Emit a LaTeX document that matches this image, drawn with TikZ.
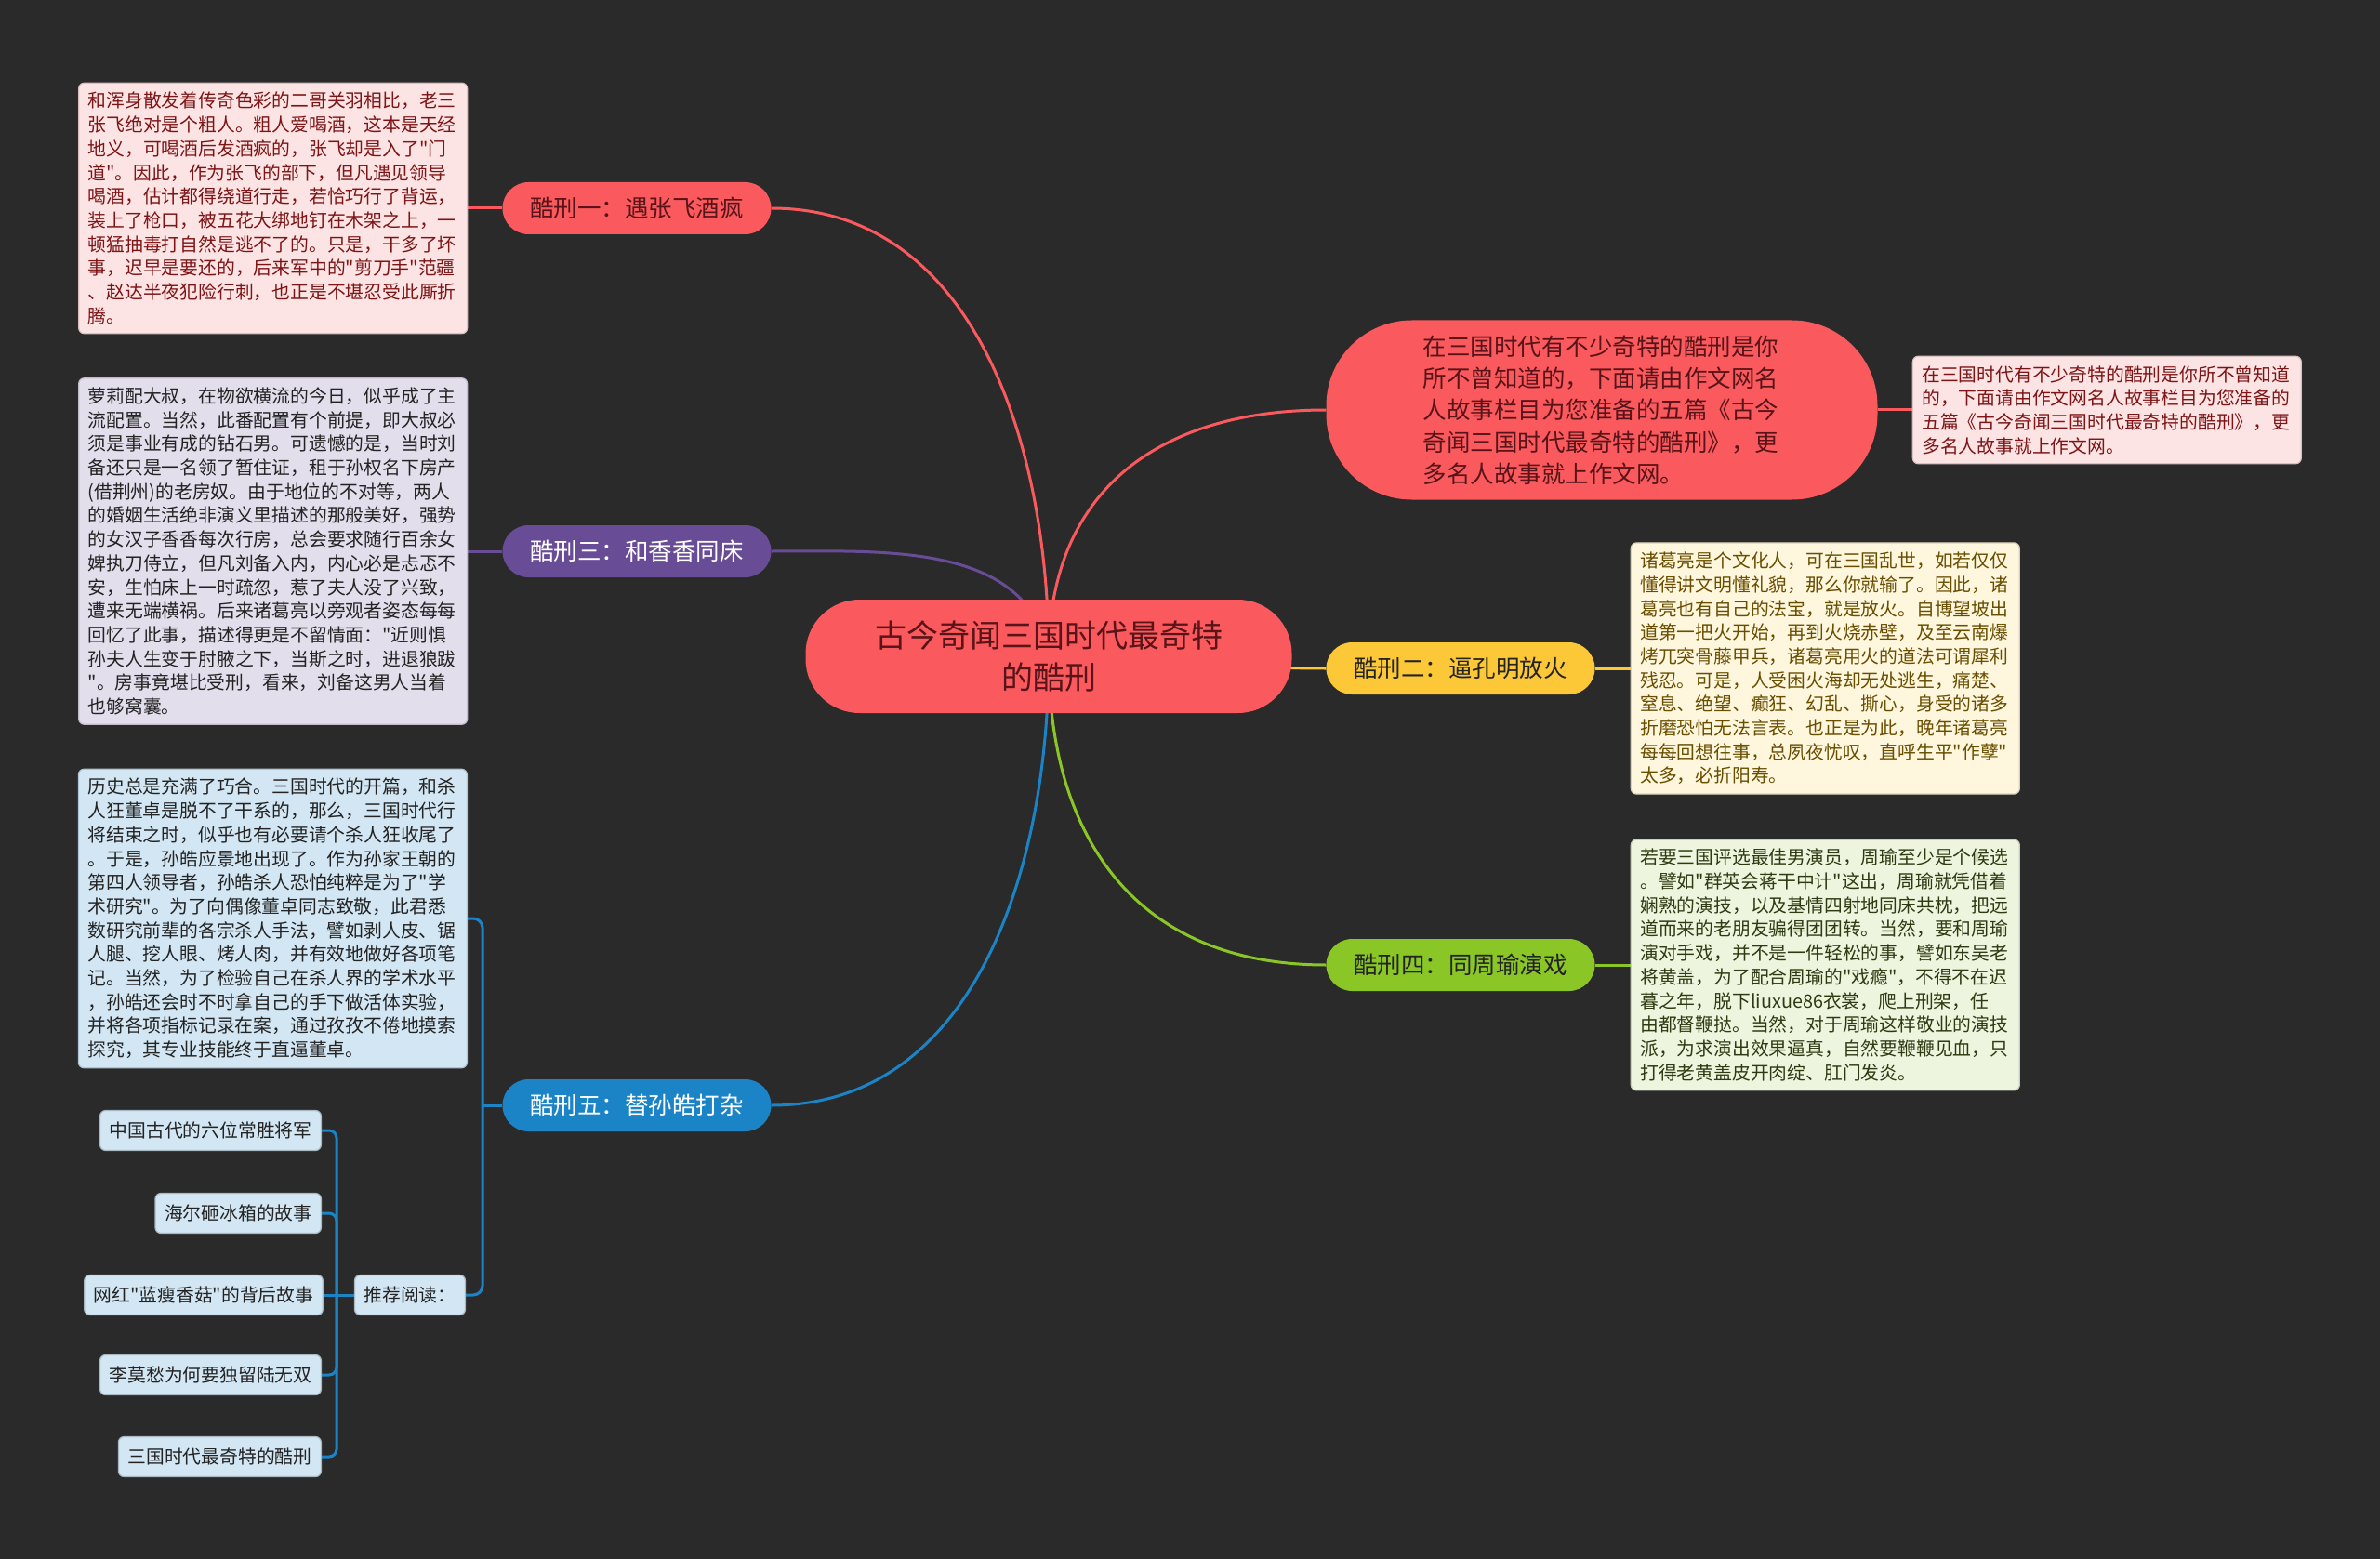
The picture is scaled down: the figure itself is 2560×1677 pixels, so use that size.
\documentclass[tikz,border=0pt]{standalone}
\usepackage{fontspec}
\setmainfont{Noto Sans CJK SC}[Ligatures=TeXOff]
\usetikzlibrary{positioning,backgrounds}
\definecolor{bgcol}{RGB}{42,42,42}
\definecolor{redcol}{RGB}{250,90,94}
\definecolor{purplecol}{RGB}{104,76,150}
\definecolor{bluecol}{RGB}{27,132,199}
\definecolor{yellowcol}{RGB}{252,200,56}
\definecolor{greencol}{RGB}{138,199,38}
\definecolor{pinkfill}{RGB}{253,228,228}
\definecolor{lilacfill}{RGB}{226,222,236}
\definecolor{icefill}{RGB}{210,230,243}
\definecolor{creamfill}{RGB}{254,247,222}
\definecolor{mintfill}{RGB}{238,245,222}
\definecolor{maroontext}{RGB}{88,20,24}
\definecolor{pinktext}{RGB}{125,20,22}
\definecolor{inktext}{RGB}{35,35,35}
\definecolor{browntext}{RGB}{105,78,0}
\definecolor{olivetext}{RGB}{45,58,18}

\begin{document}
\begin{tikzpicture}[x=1pt,y=-1pt,
    main node/.style={fill=redcol,text=maroontext,rounded corners=58pt,minimum width=523pt,minimum height=122pt,align=center,font=\fontsize{34}{45}\selectfont},
    branch node/.style={rounded corners=28pt,minimum width=289pt,minimum height=56pt,font=\fontsize{25.5}{34}\selectfont},
    leaf node/.style={rounded corners=6pt,text width=398pt,align=left,inner xsep=10pt,inner ysep=10pt,line width=1.2pt,font=\fontsize{19.8}{25.7}\selectfont},
    item node/.style={fill=icefill,draw=icefill!80!black,line width=1.2pt,rounded corners=6pt,minimum height=43pt,inner xsep=10pt,text=inktext,font=\fontsize{19.8}{25.7}\selectfont},
    link/.style={line width=3pt}]

    \node[main node] (0) at (1128,706) {古今奇闻三国时代最奇特\\的酷刑};
    \node[branch node,fill=redcol,text=maroontext] (1) at (685,224) {酷刑一：遇张飞酒疯};
    \node[branch node,fill=yellowcol,text=inktext] (2) at (1571,719) {酷刑二：逼孔明放火};
    \node[branch node,fill=purplecol,text=white] (3) at (685,593) {酷刑三：和香香同床};
    \node[branch node,fill=greencol,text=inktext] (4) at (1571,1038) {酷刑四：同周瑜演戏};
    \node[branch node,fill=bluecol,text=white] (5) at (685,1189) {酷刑五：替孙皓打杂};
    \node[main node,minimum width=593pt,minimum height=193pt,rounded corners=92pt,text width=385pt,align=left,font=\fontsize{25.5}{34.3}\selectfont] (6) at (1723,441) {在三国时代有不少奇特的酷刑是你\\所不曾知道的，下面请由作文网名\\人故事栏目为您准备的五篇《古今\\奇闻三国时代最奇特的酷刑》，更\\多名人故事就上作文网。};

    \node[leaf node,fill=pinkfill,draw=pinkfill!85!black,text=pinktext,right=37pt of 6] (7) {在三国时代有不少奇特的酷刑是你所不曾知道\\的，下面请由作文网名人故事栏目为您准备的\\五篇《古今奇闻三国时代最奇特的酷刑》，更\\多名人故事就上作文网。};
    \node[leaf node,fill=pinkfill,draw=pinkfill!85!black,text=pinktext,left=37pt of 1] (11) {和浑身散发着传奇色彩的二哥关羽相比，老三\\张飞绝对是个粗人。粗人爱喝酒，这本是天经\\地义，可喝酒后发酒疯的，张飞却是入了"门\\道"。因此，作为张飞的部下，但凡遇见领导\\喝酒，估计都得绕道行走，若恰巧行了背运，\\装上了枪口，被五花大绑地钉在木架之上，一\\顿猛抽毒打自然是逃不了的。只是，干多了坏\\事，迟早是要还的，后来军中的"剪刀手"范疆\\、赵达半夜犯险行刺，也正是不堪忍受此厮折\\腾。};
    \node[leaf node,fill=creamfill,draw=creamfill!85!black,text=browntext,right=38pt of 2] (12) {诸葛亮是个文化人，可在三国乱世，如若仅仅\\懂得讲文明懂礼貌，那么你就输了。因此，诸\\葛亮也有自己的法宝，就是放火。自博望坡出\\道第一把火开始，再到火烧赤壁，及至云南爆\\烤兀突骨藤甲兵，诸葛亮用火的道法可谓犀利\\残忍。可是，人受困火海却无处逃生，痛楚、\\窒息、绝望、癫狂、幻乱、撕心，身受的诸多\\折磨恐怕无法言表。也正是为此，晚年诸葛亮\\每每回想往事，总夙夜忧叹，直呼生平"作孽"\\太多，必折阳寿。};
    \node[leaf node,fill=lilacfill,draw=lilacfill!85!black,text=inktext,left=37pt of 3] (13) {萝莉配大叔，在物欲横流的今日，似乎成了主\\流配置。当然，此番配置有个前提，即大叔必\\须是事业有成的钻石男。可遗憾的是，当时刘\\备还只是一名领了暂住证，租于孙权名下房产\\(借荆州)的老房奴。由于地位的不对等，两人\\的婚姻生活绝非演义里描述的那般美好，强势\\的女汉子香香每次行房，总会要求随行百余女\\婢执刀侍立，但凡刘备入内，内心必是忐忑不\\安，生怕床上一时疏忽，惹了夫人没了兴致，\\遭来无端横祸。后来诸葛亮以旁观者姿态每每\\回忆了此事，描述得更是不留情面："近则惧\\孙夫人生变于肘腋之下，当斯之时，进退狼跋\\"。房事竟堪比受刑，看来，刘备这男人当着\\也够窝囊。};
    \node[leaf node,fill=mintfill,draw=mintfill!85!black,text=olivetext,right=38pt of 4] (14) {若要三国评选最佳男演员，周瑜至少是个候选\\。譬如"群英会蒋干中计"这出，周瑜就凭借着\\娴熟的演技，以及基情四射地同床共枕，把远\\道而来的老朋友骗得团团转。当然，要和周瑜\\演对手戏，并不是一件轻松的事，譬如东吴老\\将黄盖，为了配合周瑜的"戏瘾"，不得不在迟\\暮之年，脱下liuxue86衣裳，爬上刑架，任\\由都督鞭挞。当然，对于周瑜这样敬业的演技\\派，为求演出效果逼真，自然要鞭鞭见血，只\\打得老黄盖皮开肉绽、肛门发炎。};
    \node[leaf node,fill=icefill,draw=icefill!85!black,text=inktext,anchor=east] (15) at (503,988) {历史总是充满了巧合。三国时代的开篇，和杀\\人狂董卓是脱不了干系的，那么，三国时代行\\将结束之时，似乎也有必要请个杀人狂收尾了\\。于是，孙皓应景地出现了。作为孙家王朝的\\第四人领导者，孙皓杀人恐怕纯粹是为了"学\\术研究"。为了向偶像董卓同志致敬，此君悉\\数研究前辈的各宗杀人手法，譬如剥人皮、锯\\人腿、挖人眼、烤人肉，并有效地做好各项笔\\记。当然，为了检验自己在杀人界的学术水平\\，孙皓还会时不时拿自己的手下做活体实验，\\并将各项指标记录在案，通过孜孜不倦地摸索\\探究，其专业技能终于直逼董卓。};

    \node[item node] (16) at (441,1393) {推荐阅读：};
    \node[item node,anchor=east] (17) at (346,1216) {中国古代的六位常胜将军};
    \node[item node,anchor=east] (18) at (346,1305) {海尔砸冰箱的故事};
    \node[item node,left=33pt of 16] (19) {网红"蓝瘦香菇"的背后故事};
    \node[item node,anchor=east] (20) at (346,1479) {李莫愁为何要独留陆无双};
    \node[item node,anchor=east] (21) at (346,1567) {三国时代最奇特的酷刑};

    \coordinate (j5) at (519,1189);
    \coordinate (j16) at (362,1393);

    \begin{pgfonlayer}{background}
    \fill[bgcol] (0,0) rectangle (2560,1677);
    \path[link,draw=redcol]
        (0.center) edge[out=90,in=0] (1)
                   edge[out=90,in=180,looseness=1.15] (6)
        (1) edge (11)
        (6) edge (7);
    \path[link,draw=purplecol]
        (0.center) edge[out=100,in=0] (3)
        (3) edge (13);
    \path[link,draw=yellowcol]
        (0.center) edge[out=0,in=180] (2)
        (2) edge (12);
    \path[link,draw=greencol]
        (0.center) edge[out=-90,in=180,looseness=1.15] (4)
        (4) edge (14);
    \path[link,draw=bluecol]
        (0.center) edge[out=-90,in=0] (5)
        (5.west) edge (j5)
        (16) edge (19);
    \draw[link,draw=bluecol,rounded corners=10pt] (j5) |- (15.east);
    \draw[link,draw=bluecol,rounded corners=10pt] (j5) |- (16.east);
    \draw[link,draw=bluecol,rounded corners=8pt] (j16) |- (17.east);
    \draw[link,draw=bluecol,rounded corners=8pt] (j16) |- (18.east);
    \draw[link,draw=bluecol,rounded corners=8pt] (j16) |- (20.east);
    \draw[link,draw=bluecol,rounded corners=8pt] (j16) |- (21.east);
    \end{pgfonlayer}
\end{tikzpicture}
\end{document}
